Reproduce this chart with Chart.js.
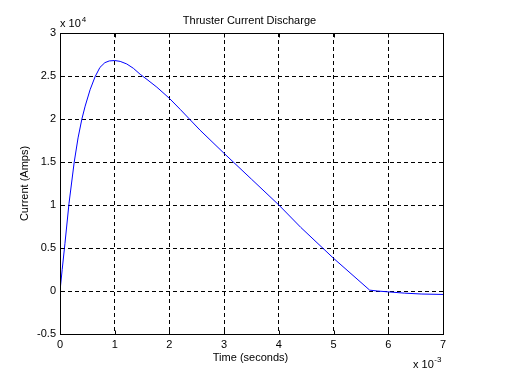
<!DOCTYPE html>
<html>
<head>
<meta charset="utf-8">
<script src="https://cdn.jsdelivr.net/npm/chart.js@4/dist/chart.umd.min.js"></script>
<style>
html,body{margin:0;padding:0;background:#fff;}
canvas{display:block;}
</style>
</head>
<body>
<canvas id="c" width="516" height="384"></canvas>
<script>
// Time in milliseconds (axis shows x 10^-3 seconds)
const timeMs = [0, 0.04, 0.09, 0.165, 0.26, 0.33, 0.40, 0.46, 0.55, 0.64, 0.73, 0.82, 0.90, 1.00, 1.10, 1.22, 1.34, 1.465, 1.59, 1.77, 2.00, 2.20, 2.56, 3.00, 3.50, 4.00, 4.40, 5.00, 5.66, 5.80, 6.00, 6.30, 6.60, 7.00];
// Current in units of 10^4 Amps
const currentE4 = [0, 0.25, 0.55, 1.02, 1.5, 1.78, 2.0, 2.15, 2.34, 2.49, 2.60, 2.655, 2.675, 2.68, 2.67, 2.64, 2.59, 2.52, 2.46, 2.37, 2.24, 2.11, 1.87, 1.60, 1.30, 1.0, 0.74, 0.38, 0.01, 0.0, -0.01, -0.025, -0.035, -0.04];
const xTicks = [0, 1, 2, 3, 4, 5, 6, 7];
const yTicks = [-0.5, 0, 0.5, 1, 1.5, 2, 2.5, 3];
const titleText = 'Thruster Current Discharge';
const xLabel = 'Time (seconds)';
const yLabel = 'Current (Amps)';

const FONT = '"Liberation Sans", Arial, Helvetica, sans-serif';

const points = timeMs.map((t, i) => ({x: t, y: currentE4[i]}));

const decorPlugin = {
  id: 'decor',
  afterDraw(chart) {
    const ctx = chart.ctx;
    const a = chart.chartArea;
    const xs = chart.scales.x, ys = chart.scales.y;
    ctx.save();
    // box
    ctx.strokeStyle = '#000';
    ctx.lineWidth = 1;
    ctx.setLineDash([]);
    const L = Math.round(a.left) + 0.5, R = Math.round(a.right) + 0.5;
    const T = Math.round(a.top) + 0.5, B = Math.round(a.bottom) + 0.5;
    ctx.strokeRect(L, T, R - L, B - T);
    // inward ticks
    ctx.beginPath();
    xTicks.forEach(v => {
      const px = Math.round(xs.getPixelForValue(v)) + 0.5;
      ctx.moveTo(px, B); ctx.lineTo(px, B - 4);
      ctx.moveTo(px, T); ctx.lineTo(px, T + 4);
    });
    yTicks.forEach(v => {
      const py = Math.round(ys.getPixelForValue(v)) + 0.5;
      ctx.moveTo(L, py); ctx.lineTo(L + 4, py);
      ctx.moveTo(R, py); ctx.lineTo(R - 4, py);
    });
    ctx.stroke();

    ctx.fillStyle = '#000';
    ctx.textBaseline = 'alphabetic';
    // title
    ctx.font = '11px ' + FONT;
    ctx.textAlign = 'center';
    ctx.fillText(titleText, (a.left + a.right) / 2 - 2, 24);
    // x label
    ctx.fillText(xLabel, (a.left + a.right) / 2 - 1, 361);
    // y exponent
    ctx.textAlign = 'left';
    ctx.fillText('x 10', a.left, 27);
    let w = ctx.measureText('x 10').width;
    ctx.font = '8px ' + FONT;
    ctx.fillText('4', a.left + w + 1, 22);
    // x exponent
    ctx.font = '11px ' + FONT;
    ctx.fillText('x 10', 413, 368);
    w = ctx.measureText('x 10').width;
    ctx.font = '8px ' + FONT;
    ctx.fillText('-3', 413 + w + 0.5, 362);
    // y label
    ctx.font = '11px ' + FONT;
    ctx.translate(28, (a.top + a.bottom) / 2);
    ctx.rotate(-Math.PI / 2);
    ctx.textAlign = 'center';
    ctx.fillText(yLabel, 0, 0);
    ctx.restore();
  }
};

new Chart(document.getElementById('c'), {
  type: 'line',
  data: {
    datasets: [{
      data: points,
      borderColor: '#0000ff',
      borderWidth: 1,
      pointRadius: 0,
      fill: false,
      tension: 0
    }]
  },
  options: {
    responsive: false,
    animation: false,
    devicePixelRatio: 1,
    layout: {padding: {top: 33, right: 73, left: 0, bottom: 0}},
    plugins: {legend: {display: false}, tooltip: {enabled: false}, title: {display: false}},
    scales: {
      x: {
        type: 'linear', min: 0, max: 7,
        afterFit(s) { s.height = 50; },
        afterBuildTicks(s) { s.ticks = xTicks.map(v => ({value: v})); },
        ticks: {
          color: '#000', font: {size: 11, family: FONT}, padding: 4, maxRotation: 0,
          callback: v => String(v)
        },
        grid: {color: '#000', lineWidth: 1, drawTicks: false},
        border: {display: true, color: '#000', width: 1, dash: [4, 3]}
      },
      y: {
        type: 'linear', min: -0.5, max: 3,
        afterFit(s) { s.width = 60; },
        afterBuildTicks(s) { s.ticks = yTicks.map(v => ({value: v})); },
        ticks: {
          color: '#000', font: {size: 11, family: FONT}, padding: 4,
          callback: v => String(+v.toFixed(2))
        },
        grid: {color: '#000', lineWidth: 1, drawTicks: false},
        border: {display: true, color: '#000', width: 1, dash: [4, 3]}
      }
    }
  },
  plugins: [decorPlugin]
});
</script>
</body>
</html>
